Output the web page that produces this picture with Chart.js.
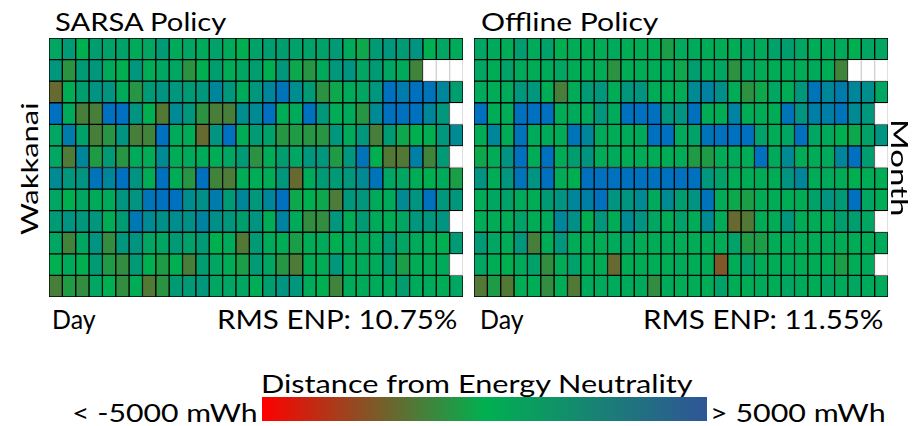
<!DOCTYPE html>
<html>
<head>
<meta charset="utf-8">
<script src="https://cdn.jsdelivr.net/npm/chart.js@4.4.1/dist/chart.umd.min.js"></script>
<style>
  html, body { margin: 0; padding: 0; background: #fff; }
  body { width: 918px; height: 426px; position: relative; overflow: hidden; }
  .panel { position: absolute; }
  .anchor { position: absolute; width: 0; height: 0; transform-origin: 0 0; }
  .anchor span { position: absolute; white-space: nowrap; line-height: 1; transform-origin: 0 0; color: #000; }
  #scaleBar { position: absolute; left: 262px; top: 397px; width: 445px; height: 24px; }
</style>
</head>
<body>
<canvas id="sarsaChart" class="panel"></canvas>
<canvas id="offlineChart" class="panel"></canvas>
<div id="scaleBar"></div>
<div id="labels"></div>

<script>
// Distance from energy neutrality per day (mWh), rows = months, columns = days.
const months = ['Jan','Feb','Mar','Apr','May','Jun','Jul','Aug','Sep','Oct','Nov','Dec'];
const days = Array.from({length: 31}, (_, i) => String(i + 1));
const enpLimit = 5000;
const rmsEnp = { sarsa: '10.75%', offline: '11.55%' };
const site = 'Wakkanai';

const sarsaDist = [
  [750,1650,0,1400,1100,1100,500,750,1650,500,750,500,1100,500,0,1100,1400,1400,1100,1100,1100,1650,500,-250,1650,1950,1650,2200,0,750,500],
  [1950,-850,1650,1950,500,0,1950,250,750,750,-850,0,1400,250,750,1400,0,1950,-250,-750,500,1950,2200,750,1650,750,500,-1250,null,null,null],
  [-2000,250,1400,2200,2200,500,-750,1650,2200,1950,1650,1950,3300,1950,500,1950,3300,4650,2750,1650,-850,-250,500,750,1950,4950,4100,4950,4650,3300,1400],
  [5000,500,-1400,-1400,5000,5000,2200,0,-1600,3000,1950,-850,-1400,-1400,2750,3000,4950,250,500,4950,1950,250,500,-750,3000,4950,4950,4950,3300,1950,null],
  [750,4100,1100,-1400,-750,2200,-1400,-1250,5000,500,250,-2000,2200,5000,250,1650,1100,-750,-600,-750,-750,1950,500,1950,-1400,1650,-250,0,0,1950,3000],
  [750,-1500,3300,-600,1650,-750,500,250,3000,250,500,500,250,750,1650,-850,250,1400,750,1950,1950,-600,1950,4650,0,-1600,-1600,3850,-1250,1650,null],
  [3000,1950,2200,4650,3300,5000,2200,250,4950,250,-750,4950,-1250,-1500,250,250,250,1950,-2000,500,1650,1650,1950,3000,4650,750,750,250,0,500,-500],
  [750,0,750,500,500,2200,2200,4650,4950,4950,2750,2500,4100,1650,3300,1950,3300,4950,-250,0,-250,-1500,1950,1950,500,500,3000,2200,4950,1950,1950],
  [1650,2200,1950,1950,250,1650,4400,3000,2500,2750,2500,3600,2500,1950,1400,2200,250,3600,500,-1000,-1000,1950,250,1650,500,250,750,1950,1950,2200,null],
  [750,-1250,750,2200,-1000,1950,2200,750,750,1650,1100,1650,0,500,-1600,1650,500,250,-500,250,500,0,500,500,500,1650,750,500,250,0,1650],
  [0,500,0,1650,-600,-1000,1650,0,-600,0,-1400,1400,750,250,-500,1650,750,-750,-1500,250,250,1950,250,500,500,1400,-500,250,250,500,null],
  [-1400,-600,-1000,750,0,-1000,250,-1600,-850,1650,1650,1950,750,750,750,250,1400,2200,1950,500,0,-1250,500,500,500,500,1400,500,500,250,750]
];

const offlineDist = [
  [750,500,250,1400,500,1100,0,250,250,250,500,250,250,250,-500,500,500,250,250,250,750,500,1100,1400,750,250,500,500,0,750,750],
  [750,250,1100,500,250,500,750,250,250,250,-850,250,250,250,500,-250,1400,500,750,-850,750,250,250,500,250,500,250,-1250,null,null,null],
  [500,250,500,1950,1950,250,-1400,250,1650,1950,250,1950,2200,250,250,250,3000,3600,2500,250,-850,-250,750,250,1950,4650,3300,4100,3300,2750,750],
  [4950,250,250,4950,4950,4950,250,500,500,1950,500,4950,4950,4950,1950,2200,4950,250,250,3600,250,250,250,4650,2200,3850,3850,4650,3000,1950,null],
  [250,3300,250,4650,500,500,250,4650,3300,500,250,500,500,4950,4950,500,1100,4650,4950,4950,4950,1100,250,750,4950,750,500,0,-250,1100,2200],
  [-250,250,2200,4950,250,4950,250,1400,2200,250,500,250,250,250,250,250,-600,-600,250,500,250,4950,500,3000,250,250,500,3300,4950,1400,null],
  [2200,250,1950,4650,2200,4950,250,0,4950,4950,4950,4950,4950,4950,4950,4950,4950,1950,1100,250,250,250,250,2200,3300,250,500,250,0,250,250],
  [250,750,1100,500,250,1650,2200,3300,3850,4950,2200,2200,3000,500,3000,1400,2200,4650,250,-250,-500,250,250,250,250,1100,2200,1650,4950,750,250],
  [250,250,250,1100,250,500,3300,2500,0,1950,250,3000,2200,750,250,1100,250,3000,250,-2000,-1600,250,250,1950,250,250,250,1400,1400,750,null],
  [1650,750,250,1950,-1400,250,1950,250,250,250,500,750,250,250,500,250,250,250,250,1100,-600,-500,250,500,250,250,500,250,250,250,500],
  [750,250,0,500,1100,-1000,250,1100,250,250,-2000,250,250,250,250,500,250,250,-2500,250,1100,250,250,500,250,250,250,-500,250,500,null],
  [-1600,-600,-1600,250,250,-1000,250,-1600,500,500,500,500,500,-1000,500,250,250,250,1100,250,250,500,250,750,500,250,750,500,750,500,500]
];

// Colour scale: red (deficit) -> green (neutral) -> blue (surplus)
const RED = [255, 0, 0], GREEN = [0, 176, 80], BLUE = [0, 112, 192];
function enpColor(v) {
  if (v === null) return '#ffffff';
  const t = Math.max(-1, Math.min(1, v / enpLimit));
  const end = t < 0 ? RED : BLUE;
  const k = Math.abs(t);
  const c = GREEN.map((g, i) => Math.round(g + (end[i] - g) * k));
  return `rgb(${c[0]},${c[1]},${c[2]})`;
}

document.getElementById('scaleBar').style.background =
  'linear-gradient(to right, rgb(255,0,0) 0%, rgb(0,176,80) 50%, rgb(47,85,151) 100%)';

function buildHeatmap(canvasId, grid, left, top) {
  const W = 416, H = 261;
  const cv = document.getElementById(canvasId);
  cv.width = W; cv.height = H;
  cv.style.left = left + 'px'; cv.style.top = top + 'px';
  cv.style.width = W + 'px'; cv.style.height = H + 'px';
  const datasets = months.map((m, mi) => ({
    label: m,
    data: days.map(d => ({ x: d, y: [mi, mi + 1] })),
    backgroundColor: grid[mi].map(enpColor),
    borderColor: grid[mi].map(v => v === null ? '#d0d0d0' : '#000000'),
    borderWidth: 1,
    borderSkipped: false,
    grouped: false,
    categoryPercentage: 1.0,
    barPercentage: 1.0
  }));
  return new Chart(cv.getContext('2d'), {
    type: 'bar',
    data: { labels: days, datasets },
    options: {
      responsive: false,
      maintainAspectRatio: false,
      animation: false,
      events: [],
      layout: { padding: 1 },
      plugins: { legend: { display: false }, tooltip: { enabled: false }, title: { display: false } },
      scales: {
        x: { type: 'category', display: false, offset: true },
        y: { type: 'linear', display: false, min: 0, max: months.length, reverse: true }
      }
    }
  });
}

buildHeatmap('sarsaChart', sarsaDist, 48, 37);
buildHeatmap('offlineChart', offlineDist, 473, 37);

// Text labels: placed by baseline start point, fitted to a given ink width
const FONT = 'Lato, "Open Sans", sans-serif';
const mctx = document.createElement('canvas').getContext('2d');
function placeText(text, x, y, width, capH, angle) {
  const size = capH / 0.7165;
  mctx.font = `${size}px ${FONT}`;
  const m = mctx.measureText(text);
  const ink = m.actualBoundingBoxLeft + m.actualBoundingBoxRight;
  const sx = width / ink;
  const fa = m.fontBoundingBoxAscent, fd = m.fontBoundingBoxDescent;
  const baseOff = (size - (fa + fd)) / 2 + fa;
  const a = document.createElement('div');
  a.className = 'anchor';
  a.style.left = x + 'px';
  a.style.top = y + 'px';
  a.style.transform = `rotate(${angle || 0}deg)`;
  const s = document.createElement('span');
  s.textContent = text;
  s.style.font = `${size}px ${FONT}`;
  s.style.top = (-baseOff) + 'px';
  s.style.left = (m.actualBoundingBoxLeft * sx) + 'px';
  s.style.transform = `scaleX(${sx})`;
  a.appendChild(s);
  document.getElementById('labels').appendChild(a);
}

placeText('SARSA Policy', 55, 28.5, 172, 18.3);
placeText('Offline Policy', 482, 28.5, 176, 18.3);
placeText('Day', 54, 326, 42, 19);
placeText('RMS ENP: ' + rmsEnp.sarsa, 219, 326, 238, 19);
placeText('Day', 482, 326, 42, 19);
placeText('RMS ENP: ' + rmsEnp.offline, 645, 326, 238, 19);
placeText(site, 34.5, 235, 132, 16.5, -90);
placeText('Month', 893, 122, 93, 17, 90);
placeText('Distance from Energy Neutrality', 263, 391, 430, 18);
placeText('< -5000 mWh', 74, 420, 182, 18);
placeText('> 5000 mWh', 712, 420, 172, 18);
</script>
</body>
</html>
